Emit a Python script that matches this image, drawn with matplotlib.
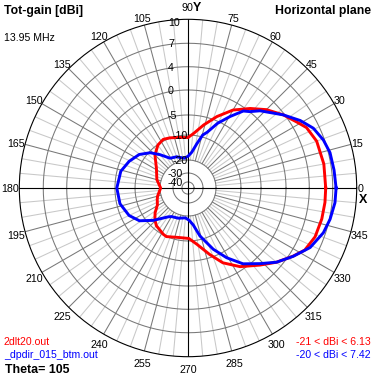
import numpy as np
import matplotlib
matplotlib.use('Agg')
from matplotlib import pyplot as plt
from matplotlib import font_manager


# Horizontal plane patterns, azimuth (deg) vs total gain (dBi).
red_deg = [0, 10, 20, 27, 31, 37.5, 45, 52, 60, 68, 76, 84, 90, 101, 110, 117, 125,
           135, 148, 165, 180, 195, 200, 209, 217, 224, 230, 242, 246, 258, 271, 279,
           288, 295, 303.5, 313, 320, 327, 332, 339, 347, 354, 360]
red_db = [6.1, 6.13, 6.0, 5.5, 4.8, 3.8, 2.2, 0.5, -1.6, -4.2, -7.0, -9.5, -11.0, -10.6,
          -9.9, -9.6, -10.2, -12.5, -16.3, -18.3, -20.5, -18.6, -18.1, -17.2, -14.7,
          -12.8, -11.5, -10.2, -9.95, -11.0, -11.0, -9.0, -5.8, -3.1, -0.74, 1.27, 3.0,
          4.5, 5.4, 5.9, 6.05, 6.1, 6.1]

blue_deg = [0, 7, 14, 19.5, 25.5, 31, 37.5, 47, 51, 54.3, 59.5, 65.5, 71, 74.5, 78.8,
            84, 90, 97, 110, 121, 130, 137, 145.5, 155.6, 166, 180, 193, 205, 214, 223,
            235.5, 240, 252, 265, 272, 278, 284, 292.4, 299, 306, 313.6, 320, 327, 334,
            341.7, 347.6, 354.3, 360]
blue_db = [7.42, 7.3, 7.2, 6.86, 6.25, 5.24, 3.8, 1.3, 0.05, -0.64, -3.0, -5.5, -8.5,
           -9.5, -13.2, -16.8, -18.5, -19.2, -17.9, -17.3, -13.8, -10.5, -8.45, -7.1,
           -5.94, -5.46, -5.8, -7.0, -8.6, -12.2, -17.2, -18.0, -18.5, -19.2, -18.3,
           -16.3, -11.4, -6.7, -3.66, -0.86, 1.1, 3.0, 4.53, 5.86, 6.72, 7.09, 7.37, 7.42]

ring_levels = [10, 7, 4, 0, -5, -10, -20, -30, -40]
angle_labels = list(range(0, 360, 15))

red_name = '2dlt20.out'
blue_name = '_dpdir_015_btm.out'
red_range = '-21 < dBi < 6.13'
blue_range = '-20 < dBi < 7.42'

# radial scale of the chart (ring radius as a fraction of the outer circle)
scale_db = [-50, -40, -30, -20, -10, -5, 0, 4, 7, 10]
scale_r = [0.0, 0.036, 0.089, 0.166, 0.314, 0.433, 0.581, 0.719, 0.858, 1.0]


def fwd(d):
    return np.interp(d, scale_db, scale_r)


def inv(r):
    return np.interp(r, scale_r, scale_db)


names = {f.name for f in font_manager.fontManager.ttflist}
if 'Liberation Sans Narrow' in names:
    lab_font, lab_size = 'Liberation Sans Narrow', 8.8
else:
    lab_font, lab_size = 'Liberation Sans', 7.7
txt_font = 'Liberation Sans'

fig = plt.figure(figsize=(3.75, 3.75), dpi=100, facecolor='white')
ax = fig.add_axes([0.0515, 0.0488, 0.8997, 0.8997], projection='polar')
ax.set_rscale('function', functions=(fwd, inv))

# grid: rings and spokes
th = np.linspace(0, 2 * np.pi, 721)
for lv in ring_levels[1:]:
    ax.plot(th, np.full_like(th, lv), color='#787878', lw=0.75, zorder=1.1)
for a in range(0, 360, 5):
    if a % 90 == 0:
        continue
    if a % 15 == 0:
        ax.plot([np.deg2rad(a)] * 2, [-20, 10], color='#787878', lw=0.75, zorder=1.1)
    else:
        ax.plot([np.deg2rad(a)] * 2, [-20, 10], color='#c8c8c8', lw=0.75, zorder=1.0)
for a in (0, 90, 180, 270):
    ax.plot([np.deg2rad(a)] * 2, [-50, 10], color='black', lw=0.8, zorder=2)

ax.plot(np.deg2rad(red_deg), red_db, color='#ff0000', lw=2.1, zorder=3)
ax.plot(np.deg2rad(blue_deg), blue_db, color='#0000ff', lw=2.1, zorder=3)

ax.set_rlim(-50, 10)
ax.set_xticks([])
ax.set_yticks([])
ax.grid(False)
ax.spines['polar'].set_color('black')
ax.spines['polar'].set_linewidth(0.8)

# ring labels along the vertical axis
for lv in ring_levels:
    dx = -15 if lv in (-10, -20) else -20
    dy = -3 if lv == 10 else 0
    ax.annotate(str(lv), xy=(np.pi / 2, lv), xytext=(dx, dy), textcoords='offset pixels',
                ha='left', va='center_baseline', fontsize=lab_size, family=lab_font,
                annotation_clip=False, zorder=5)

# azimuth labels round the outer circle
for a in angle_labels:
    t = np.deg2rad(a)
    if a == 90:
        ax.annotate('90', xy=(t, 10), xytext=(5, 12.5), textcoords='offset pixels',
                    ha='right', va='center_baseline', fontsize=lab_size, family=lab_font,
                    annotation_clip=False)
        ax.annotate('Y', xy=(t, 10), xytext=(5, 12.5), textcoords='offset pixels',
                    ha='left', va='center_baseline', fontsize=9, family=txt_font,
                    weight='bold', annotation_clip=False)
        continue
    s = str(a)
    w = 5.4 * len(s)
    dx = (w / 2 + 1) * np.cos(t)
    dy = 7 * np.sin(t) if np.sin(t) > 0 else 12 * np.sin(t)
    ax.annotate(s, xy=(t, 10), xytext=(dx, dy), textcoords='offset pixels',
                ha='center', va='center_baseline', fontsize=lab_size, family=lab_font,
                annotation_clip=False)
ax.annotate('X', xy=(0, 10), xytext=(6, -10), textcoords='offset pixels',
            ha='center', va='center_baseline', fontsize=9, family=txt_font,
            weight='bold', annotation_clip=False)


def px(x, y):
    return x / 375, 1 - y / 375


fig.text(*px(4, 14), 'Tot-gain [dBi]', fontsize=8.8, weight='bold', family=txt_font)
fig.text(*px(371, 14), 'Horizontal plane', fontsize=8.8, weight='bold', family=txt_font,
         ha='right')
fig.text(*px(4, 40.7), '13.95 MHz', fontsize=7.6, family=txt_font)
fig.text(*px(4, 345), red_name, fontsize=7.6, family=txt_font, color='#ff0000')
fig.text(*px(4, 358), blue_name, fontsize=7.6, family=txt_font, color='#0000ff')
fig.text(*px(5, 373), 'Theta= 105', fontsize=8.9, weight='bold', family=txt_font)
fig.text(*px(371, 345), red_range, fontsize=7.6, family=txt_font, color='#ff0000',
         ha='right')
fig.text(*px(371, 358), blue_range, fontsize=7.6, family=txt_font, color='#0000ff',
         ha='right')

fig.savefig('out.png', dpi=100, facecolor='white')
